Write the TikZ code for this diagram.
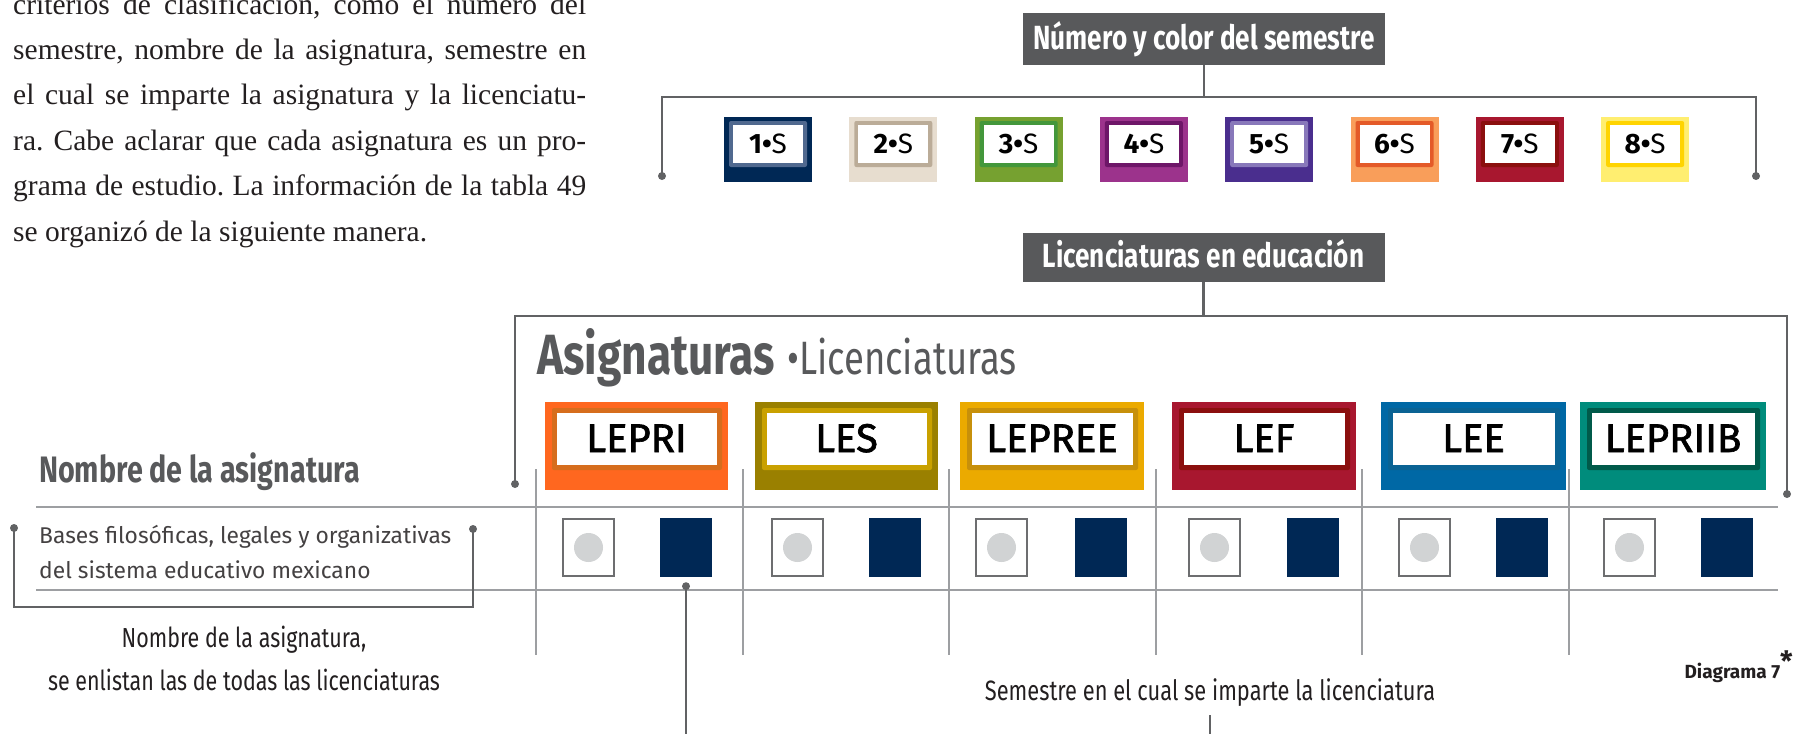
\documentclass[tikz,border=0pt]{standalone}
\usepackage{fontspec}
\setmainfont{Liberation Serif}
\newfontfamily\fira{Fira Sans}
\newfontfamily\firam[FakeBold=1.6]{Fira Sans}
\newfontfamily\firac[FakeStretch=0.78]{Fira Sans}
\definecolor{hdr}{HTML}{58595B}
\definecolor{brk}{HTML}{616264}
\definecolor{grd}{HTML}{9D9FA2}
\definecolor{navy}{HTML}{002855}
\definecolor{cgray}{HTML}{D1D3D4}
\definecolor{cbord}{HTML}{6D6E70}
\definecolor{ink}{HTML}{231F20}
\definecolor{soA}{HTML}{002855}\definecolor{srA}{HTML}{50698F}
\definecolor{soB}{HTML}{E7DDCF}\definecolor{srB}{HTML}{BBAC98}
\definecolor{soC}{HTML}{76A130}\definecolor{srC}{HTML}{43973B}
\definecolor{soD}{HTML}{9C338C}\definecolor{srD}{HTML}{6E1668}
\definecolor{soE}{HTML}{4A2E8E}\definecolor{srE}{HTML}{8878BA}
\definecolor{soF}{HTML}{F99E5A}\definecolor{srF}{HTML}{E45A28}
\definecolor{soG}{HTML}{A8172F}\definecolor{srG}{HTML}{8B0F0E}
\definecolor{soH}{HTML}{FFEE70}\definecolor{srH}{HTML}{FFD400}
\definecolor{loA}{HTML}{FF671F}\definecolor{lrA}{HTML}{D66D1D}
\definecolor{loB}{HTML}{9A8000}\definecolor{lrB}{HTML}{C9A100}
\definecolor{loC}{HTML}{EBAA00}\definecolor{lrC}{HTML}{C7900B}
\definecolor{loD}{HTML}{A8172F}\definecolor{lrD}{HTML}{8B0F0E}
\definecolor{loE}{HTML}{0068A5}\definecolor{lrE}{HTML}{0A6394}
\definecolor{loF}{HTML}{008C7C}\definecolor{lrF}{HTML}{005A4A}
\tikzset{
  hdrbox/.style={fill=hdr, inner sep=0pt, minimum width=362pt, text=white, text depth=0pt,
    font=\firac\bfseries\fontsize{33.5}{34}\selectfont},
  bline/.style={draw=brk, line width=2.2pt},
  gline/.style={draw=grd, line width=2pt},
  sembox/.style={inner sep=0pt, minimum width=88pt, minimum height=65pt},
  semtxt/.style={inner sep=0pt, text height=19pt, text depth=0pt, text=black,
    font=\fira\fontsize{28}{28}\selectfont},
  licbox/.style={inner sep=0pt, minimum height=88pt},
  lictxt/.style={inner sep=0pt, text height=26pt, text depth=0pt, text=black,
    font=\firam\fontsize{40}{40}\selectfont},
  cbox/.style={draw=cbord, line width=2.5pt, fill=white, inner sep=0pt, minimum width=51pt, minimum height=57pt},
  cdot/.style={circle, fill=cgray, inner sep=0pt, minimum size=29pt},
  navybox/.style={fill=navy, inner sep=0pt, minimum width=52pt, minimum height=59pt},
  bodyline/.style={anchor=base west, inner sep=0pt, text=ink, font=\frenchspacing\fontsize{29.5}{30}\selectfont},
  lbl/.style={inner sep=0pt, text=ink, font=\firac\fontsize{27.5}{30}\selectfont},
}
\begin{document}
\begin{tikzpicture}[x=1pt,y=-1pt]
\useasboundingbox (0,0) rectangle (1797,734);
% body paragraph
\node[bodyline] (p1) at (13,14) {\makebox[573pt][s]{criterios de clasificación, como el número del}};
\node[bodyline] (p2) at (13,59.4) {\makebox[573pt][s]{semestre, nombre de la asignatura, semestre en}};
\node[bodyline] (p3) at (13,104.8) {\makebox[573pt][s]{el cual se imparte la asignatura y la licenciatu-}};
\node[bodyline] (p4) at (13,150.2) {\makebox[573pt][s]{ra. Cabe aclarar que cada asignatura es un pro-}};
\node[bodyline] (p5) at (13,195.6) {\makebox[573pt][s]{grama de estudio. La información de la tabla 49}};
\node[bodyline] (p6) at (13,241) {se organizó de la siguiente manera.};
% header 1 and bracket
\node[hdrbox, minimum height=52pt, text height=20pt] (hA) at (1204,39) {Número y color del semestre};
\coordinate (aTop) at (1204,97);
\coordinate (aL) at (662,176);
\coordinate (aR) at (1756,176);
\draw[bline] (hA.south) -- (aTop);
\draw[bline] (aL) |- (aTop) -| (aR);
\fill[brk] (aL) circle (4pt);
\fill[brk] (aR) circle (4pt);
% semester boxes
\foreach \i/\c in {1/A,2/B,3/C,4/D,5/E,6/F,7/G,8/H}{
  \pgfmathsetmacro\l{724+125.3*(\i-1)}
  \node[sembox, fill=so\c] (sb\i) at ({\l+44},149.5) {};
  \fill[sr\c, rounded corners=2pt] ({\l+5},121) rectangle ({\l+83},167);
  \fill[white] ({\l+9},125) rectangle ({\l+79},163);
  \node[semtxt] (st\i) at ({\l+44},144) {\textbf{\i•}S};
}
% header 2 and bracket
\node[hdrbox, minimum height=49pt, text height=19pt] (hB) at (1203.5,257.5) {Licenciaturas en educación};
\coordinate (bTop) at (1203.5,316);
\coordinate (bL) at (515,484);
\coordinate (bR) at (1787,494);
\draw[bline] (hB.south) -- (bTop);
\draw[bline] (bL) |- (bTop) -| (bR);
\fill[brk] (bL) circle (4pt);
\fill[brk] (bR) circle (4pt);
% title
\node[anchor=base west, inner sep=0pt, text=hdr, font=\firac\bfseries\fontsize{56.7}{60}\selectfont] (asg) at (537,374) {Asignaturas};
\node[anchor=base west, inner sep=0pt, text=hdr, font=\firac\fontsize{46.8}{50}\selectfont] (lic) at (787,374) {•Licenciaturas};
% grid
\foreach \x in {536,742.6,949.2,1155.8,1362.4,1569} \draw[gline] (\x,469) -- (\x,655);
\draw[gline] (36,507) -- (1778,507);
\draw[gline] (36,590) -- (1778,590);
% licenciatura boxes
\foreach \t/\l/\w/\c in {LEPRI/545/183/A,LES/755/183/B,LEPREE/960/184/C,LEF/1172/184/D,LEE/1381/185/E,LEPRIIB/1580/186/F}{
  \node[licbox, minimum width=\w pt, fill=lo\c] (lb\c) at ({\l+\w/2},446) {};
  \fill[lr\c, rounded corners=2pt] ({\l+7},408) rectangle ({\l+\w-6},470);
  \fill[white] ({\l+12},413) rectangle ({\l+\w-11},465);
  \node[lictxt] (lt\c) at ({\l+\w/2},439) {\t};
}
% cells
\foreach \k/\cx/\nx in {1/562/660,2/771/869,3/975/1075,4/1188/1287,5/1398/1496,6/1603/1701}{
  \node[cbox] (cb\k) at ({\cx+26.5},547.5) {};
  \node[cdot] (cd\k) at (cb\k.center) {};
  \node[navybox] (nb\k) at ({\nx+26},547.5) {};
}
% left labels
\node[anchor=base west, inner sep=0pt, text=hdr, font=\firac\bfseries\fontsize{36.8}{40}\selectfont] (nom) at (39,482) {Nombre de la asignatura};
\node[anchor=base west, inner sep=0pt, text=ink!85, font=\fira\fontsize{22.8}{24}\selectfont] (bas1) at (39,543) {Bases filosóficas, legales y organizativas};
\node[anchor=base west, inner sep=0pt, text=ink!85, font=\fira\fontsize{22.8}{24}\selectfont] (bas2) at (39,578) {del sistema educativo mexicano};
\coordinate (cL) at (14,528);
\coordinate (cR) at (473,529);
\coordinate (cB) at (14,607);
\draw[bline] (cL) -- (cB) -| (cR);
\fill[brk] (cL) circle (4pt);
\fill[brk] (cR) circle (4pt);
\node[lbl, anchor=base] (nt1) at (244,647) {Nombre de la asignatura,};
\node[lbl, anchor=base] (nt2) at (244,690) {se enlistan las de todas las licenciaturas};
% pointer from navy square
\coordinate (pd) at ([yshift=-9pt]nb1.south);
\coordinate (pe) at (pd |- 0,734);
\draw[bline] (pd) -- (pe);
\fill[brk] (pd) circle (4pt);
% semestre label
\node[lbl, anchor=base, font=\firac\fontsize{28}{30}\selectfont] (sem) at (1210,700) {Semestre en el cual se imparte la licenciatura};
\coordinate (sq1) at (1210,715);
\coordinate (sq2) at (1210,734);
\draw[bline] (sq1) -- (sq2);
% diagram label
\node[anchor=base east, inner sep=0pt, text=ink, font=\fira\bfseries\fontsize{19}{20}\selectfont] (dg) at (1793,678) {Diagrama 7\raisebox{7pt}{\fontsize{28}{28}\selectfont *}};
\end{tikzpicture}
\end{document}
